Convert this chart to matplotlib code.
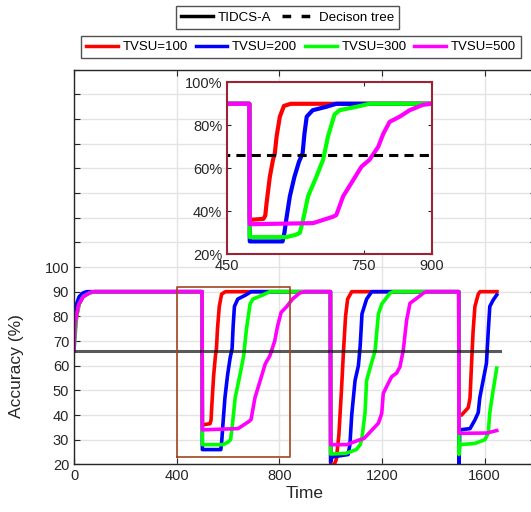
import matplotlib
matplotlib.use('Agg')
import matplotlib.pyplot as plt
from matplotlib.lines import Line2D
import numpy as np

plt.rcParams['font.family'] = ['Liberation Sans', 'DejaVu Sans']

# accuracy traces (time, accuracy %)
red_t = [0, 10, 20, 35, 60, 80, 499, 500, 530, 534, 537, 544, 551, 555, 559, 566, 575, 590,
         999, 1000, 1012, 1022, 1032, 1042, 1050, 1058, 1066, 1082,
         1499, 1500, 1510, 1536, 1543, 1549, 1555, 1562, 1575, 1582, 1648]
red_acc = [70, 80, 85, 88, 89.5, 90, 90, 36, 36.5, 38, 44, 56, 64, 67, 75, 84, 89, 90,
           90, 20, 19.5, 22, 32, 50, 66, 80, 87, 90,
           90, 40, 40, 43, 47, 61, 74, 84, 89, 90, 90]

blue_t = [0, 10, 20, 35, 50, 499, 500, 572, 576, 580, 588, 598, 608, 616, 620, 625, 638, 668, 690,
          999, 1000, 1005, 1068, 1075, 1082, 1095, 1108, 1115, 1122, 1140, 1160,
          1499, 1500, 1503, 1543, 1562, 1575, 1581, 1594, 1607, 1614, 1620, 1633, 1647]
blue_acc = [80, 85, 88, 89.5, 90, 90, 26, 26, 30, 36, 47, 56, 63, 67, 76, 84, 87, 88.6, 90,
            90, 21, 23, 24, 28, 40, 54, 60, 68, 81, 87, 90,
            90, 19, 34, 34.5, 38, 41, 47, 54, 61, 74, 84, 86.6, 88.7]

green_t = [0, 10, 20, 35, 60, 80, 499, 500, 580, 600, 610, 617, 628, 646, 661, 672, 686, 697, 734, 763,
           999, 1000, 1060, 1100, 1115, 1121, 1134, 1140, 1156, 1173, 1186, 1199, 1231, 1244,
           1499, 1500, 1503, 1562, 1601, 1614, 1620, 1633, 1647]
green_acc = [66, 80, 85, 88, 89.5, 90, 90, 28, 28, 29, 30, 36, 47, 56, 64, 75, 85, 87, 88.6, 90,
             90, 24.2, 24.5, 26, 28, 30, 41, 54, 60, 66, 81, 85, 89.4, 90,
             90, 24, 28, 28.5, 30, 32.6, 41, 50, 59]

magenta_t = [0, 4, 17, 36, 62, 75, 499, 500, 639, 661, 683, 690, 705, 727, 745, 763, 782, 793, 807,
             829, 851, 880, 899, 999, 1000, 1062, 1114, 1130, 1186, 1199, 1205, 1225, 1238, 1257,
             1270, 1283, 1296, 1309, 1335, 1361, 1374, 1499, 1500, 1607, 1647]
magenta_acc = [66, 77, 84.6, 88, 89.6, 90, 90, 34, 34.5, 36, 37.5, 38.3, 47, 54.5, 60.7, 64, 70, 76, 81.6,
               84, 87, 89.5, 90, 90, 28, 28, 30, 30.5, 36.7, 40.7, 48.8, 53, 55.6, 57,
               59.6, 66.4, 78.5, 85.3, 87.3, 89.4, 90, 90, 32.6, 32.7, 33.7]

series = [
    ('TVSU=100', red_t, red_acc, '#ff0000'),
    ('TVSU=200', blue_t, blue_acc, '#0000ff'),
    ('TVSU=300', green_t, green_acc, '#00ff00'),
    ('TVSU=500', magenta_t, magenta_acc, '#ff00ff'),
]

baseline_t = [0, 1660]
baseline_acc = [66, 66]

zoom_box_t = [400, 840]
zoom_box_acc = [23, 92]

main_xticks = [0, 400, 800, 1200, 1600]
main_yticks = list(range(20, 181, 10))
inset_xticks = [450, 750, 900]
inset_yticks = [20, 40, 60, 80, 100]

axis_col = '#262626'

fig = plt.figure(figsize=(5.31, 5.12), dpi=100)
ax = fig.add_axes([0.1394, 0.093, 0.870, 0.771])

for name, t, acc, col in series:
    ax.plot(t, acc, color=col, lw=2.6, solid_joinstyle='round')
ax.plot(baseline_t, baseline_acc, color='k', alpha=0.65, lw=2.2)

bx = [zoom_box_t[0], zoom_box_t[1], zoom_box_t[1], zoom_box_t[0], zoom_box_t[0]]
by = [zoom_box_acc[0], zoom_box_acc[0], zoom_box_acc[1], zoom_box_acc[1], zoom_box_acc[0]]
ax.plot(bx, by, color='#a0461e', lw=1.2)

ax.set_xlim(0, 1800)
ax.set_ylim(20, 180)
ax.set_xticks(main_xticks)
ax.set_yticks(main_yticks)
ax.set_yticklabels([str(v) if v <= 100 else '' for v in main_yticks])
ax.grid(True, color='#e3e3e3', lw=1.0)
ax.set_axisbelow(True)
ax.tick_params(direction='in', top=True, right=True, labelsize=10.5, colors=axis_col, length=4)
for s in ax.spines.values():
    s.set_color(axis_col)
    s.set_linewidth(1.0)
ax.set_xlabel('Time', fontsize=12.5, color=axis_col, labelpad=2)
ax.set_ylabel('Accuracy (%)', fontsize=12.5, color=axis_col)
ax.yaxis.set_label_coords(-0.108, 0.25)

# inset zoom
ins = fig.add_axes([0.4275, 0.5033, 0.386, 0.336])
for name, t, acc, col in series:
    ins.plot(t, acc, color=col, lw=3.0, solid_joinstyle='round')
ins.plot(baseline_t, baseline_acc, color='k', lw=2.2, dashes=(3, 2))
ins.set_xlim(450, 900)
ins.set_ylim(20, 100)
ins.set_xticks(inset_xticks)
ins.set_yticks(inset_yticks)
ins.set_yticklabels([f'{v}%' for v in inset_yticks])
ins.tick_params(direction='in', top=True, right=True, labelsize=10.5, colors=axis_col, length=3)
for s in ins.spines.values():
    s.set_color('#9b2335')
    s.set_linewidth(1.5)

# legends
h1 = [Line2D([], [], color='k', lw=2.5),
      Line2D([], [], color='k', lw=2.5, dashes=(2.5, 3))]
leg1 = fig.legend(h1, ['TIDCS-A', 'Decison tree'], loc='center', bbox_to_anchor=(0.5414, 0.9658),
                  ncol=2, fontsize=9.6, frameon=True, fancybox=False, edgecolor=axis_col,
                  handlelength=2.4, handletextpad=0.35, columnspacing=0.8, borderpad=0.4)
leg1.get_frame().set_linewidth(1.0)

h2 = [Line2D([], [], color=c, lw=2.5) for _, _, _, c in series]
leg2 = fig.legend(h2, [n for n, _, _, _ in series], loc='center', bbox_to_anchor=(0.567, 0.908),
                  ncol=4, fontsize=9.5, frameon=True, fancybox=False, edgecolor=axis_col,
                  handlelength=2.4, handletextpad=0.35, columnspacing=0.6, borderpad=0.4)
leg2.get_frame().set_linewidth(1.0)

fig.savefig('out.png', dpi=100)
